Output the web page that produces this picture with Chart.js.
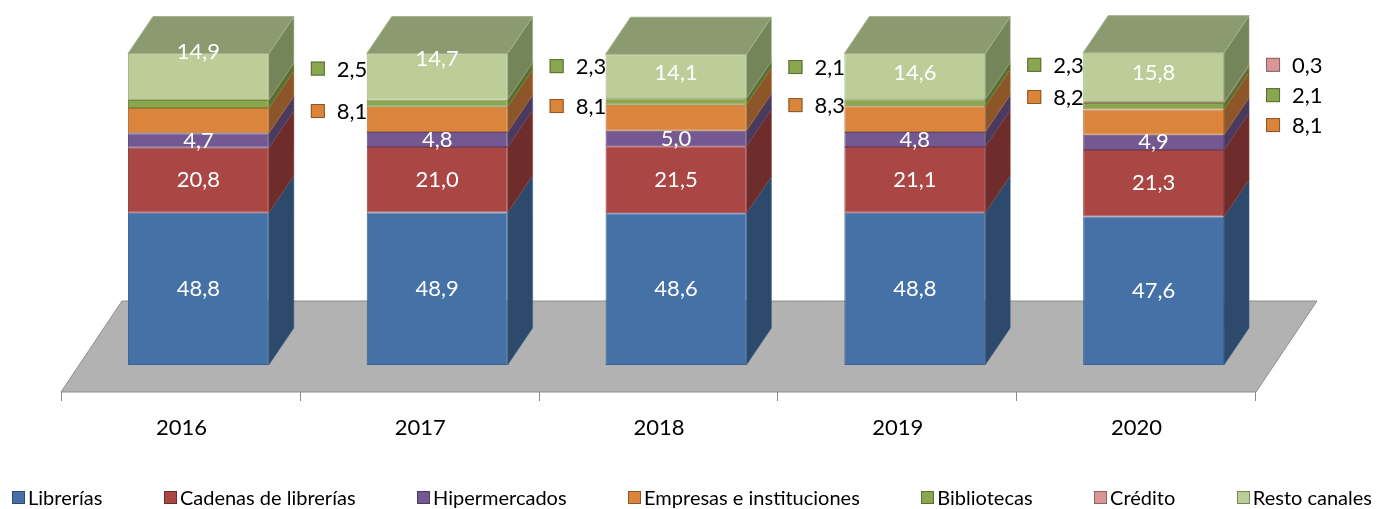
<!DOCTYPE html>
<html>
<head>
<meta charset="utf-8">
<script src="https://cdn.jsdelivr.net/npm/chart.js@4.4.1/dist/chart.umd.min.js"></script>
<style>
    html, body { margin: 0; padding: 0; background: #fff; }
    #wrap { position: relative; width: 1376px; height: 509px; overflow: hidden; }
    #chart { position: absolute; left: 0; top: 0; }
    #custom-legend {
        position: absolute; left: 12px; width: 1360px; top: 485px;
        display: flex; justify-content: space-between;
        font-family: Lato, sans-serif; font-size: 20px; color: #000; line-height: 24px;
    }
</style>
</head>
<body>
<div id="wrap">
    <canvas id="chart" width="1376" height="509"></canvas>
    <div id="custom-legend"></div>
</div>
<script>
// Data (percent shares by sales channel)
const years = ['2016', '2017', '2018', '2019', '2020'];
const librerias = [48.8, 48.9, 48.6, 48.8, 47.6];
const cadenas = [20.8, 21.0, 21.5, 21.1, 21.3];
const hipermercados = [4.7, 4.8, 5.0, 4.8, 4.9];
const empresas = [8.1, 8.1, 8.3, 8.2, 8.1];
const bibliotecas = [2.5, 2.3, 2.1, 2.3, 2.1];
const credito = [null, null, null, null, 0.3];
const resto = [14.9, 14.7, 14.1, 14.6, 15.8];

// where the small outside labels were placed (in axis units)
const empresasLabelAt = [81.4, 83.0, 83.3, 85.9, 76.9];
const bibliotecasLabelAt = [95.0, 95.8, 95.5, 96.2, 86.5];
const creditoLabelAt = [null, null, null, null, 96.2];
// vertical nudge of the "Resto canales" labels (px)
const restoLabelShift = [-25, -18, -3, -3, -4];

const series = [
    { label: 'Librerías', data: librerias, front: '#4571a7', side: '#2d4a6d', edge: '#3a6291', inside: true },
    { label: 'Cadenas de librerías', data: cadenas, front: '#aa4644', side: '#6e2c2b', edge: '#8e3a38', inside: true },
    { label: 'Hipermercados', data: hipermercados, front: '#735891', side: '#4a3a5e', edge: '#5e4878', inside: true },
    { label: 'Empresas e instituciones', data: empresas, front: '#da843c', side: '#8d5628', edge: '#b46c30', labelAt: empresasLabelAt },
    { label: 'Bibliotecas', data: bibliotecas, front: '#8aa64f', side: '#5a6d33', edge: '#6f8a3c', labelAt: bibliotecasLabelAt },
    { label: 'Crédito', data: credito, front: '#d89696', side: '#8d6262', edge: '#b47a7a', labelAt: creditoLabelAt },
    { label: 'Resto canales', data: resto, front: '#bccd97', side: '#748659', top: '#8b9b6f', edge: '#a2b283', inside: true, shift: restoLabelShift }
];

const DX = 25, DY = 37;          // bar depth
const FDX = 61, FDY = 91;        // floor depth
const SHIFT_X = 17, SHIFT_Y = 27; // bar front face sits inside the floor

function fmt(v) {
    return v.toFixed(1).replace('.', ',');
}

// gray floor, axis ticks and category labels
const floorPlugin = {
    id: 'floor3d',
    beforeDatasetsDraw(chart) {
        const { ctx, chartArea: a } = chart;
        const xs = chart.scales.x;
        const x0 = a.left - SHIFT_X - 1, x1 = a.right - SHIFT_X, y0 = a.bottom + SHIFT_Y;
        ctx.save();
        ctx.beginPath();
        ctx.moveTo(x0, y0);
        ctx.lineTo(x1, y0);
        ctx.lineTo(x1 + FDX, y0 - FDY);
        ctx.lineTo(x0 + FDX, y0 - FDY);
        ctx.closePath();
        ctx.fillStyle = '#b2b2b2';
        ctx.fill();
        ctx.strokeStyle = '#8e8e8e';
        ctx.lineWidth = 1;
        ctx.stroke();

        // tick marks between categories
        const step = xs.width / years.length;
        ctx.strokeStyle = '#8a8a8a';
        ctx.beginPath();
        for (let i = 0; i <= years.length; i++) {
            const tx = Math.round(xs.getPixelForValue(0) - step / 2 + i * step - SHIFT_X) - 0.5;
            ctx.moveTo(tx, y0);
            ctx.lineTo(tx, y0 + 9);
        }
        ctx.stroke();

        // category labels
        ctx.fillStyle = '#000';
        ctx.font = '22px Lato';
        ctx.textAlign = 'center';
        ctx.textBaseline = 'middle';
        years.forEach((yr, i) => {
            ctx.fillText(yr, xs.getPixelForValue(i) - SHIFT_X, 428);
        });
        ctx.restore();
    }
};

// side and top faces, plus value labels
const bars3dPlugin = {
    id: 'bars3d',
    afterDatasetsDraw(chart) {
        const ctx = chart.ctx;
        const ys = chart.scales.y;
        const last = series.length - 1;
        ctx.save();
        ctx.lineWidth = 1;
        series.forEach((s, d) => {
            const meta = chart.getDatasetMeta(d);
            meta.data.forEach((bar, i) => {
                if (!s.data[i]) return;
                const { x, y, base, width } = bar.getProps(['x', 'y', 'base', 'width'], true);
                const l = x - width / 2, r = x + width / 2;
                // side face
                ctx.beginPath();
                ctx.moveTo(r, y);
                ctx.lineTo(r + DX, y - DY);
                ctx.lineTo(r + DX, base - DY);
                ctx.lineTo(r, base);
                ctx.closePath();
                ctx.fillStyle = s.side;
                ctx.fill();
                ctx.strokeStyle = s.edge;
                ctx.globalAlpha = 0.5;
                ctx.stroke();
                ctx.globalAlpha = 1;
                // top face on the last segment
                if (d === last) {
                    ctx.beginPath();
                    ctx.moveTo(l, y);
                    ctx.lineTo(l + DX, y - DY);
                    ctx.lineTo(r + DX, y - DY);
                    ctx.lineTo(r, y);
                    ctx.closePath();
                    ctx.fillStyle = s.top;
                    ctx.fill();
                    ctx.strokeStyle = '#a3b089';
                    ctx.stroke();
                }
            });
        });

        // labels
        ctx.font = '22px Lato';
        ctx.textBaseline = 'middle';
        series.forEach((s, d) => {
            const meta = chart.getDatasetMeta(d);
            meta.data.forEach((bar, i) => {
                const v = s.data[i];
                if (!v) return;
                const { x, y, base, width } = bar.getProps(['x', 'y', 'base', 'width'], true);
                if (s.inside) {
                    ctx.fillStyle = '#fff';
                    ctx.textAlign = 'center';
                    const dy = s.shift ? s.shift[i] : 0;
                    ctx.fillText(fmt(v), x, (y + base) / 2 + dy);
                } else if (s.labelAt && s.labelAt[i] != null) {
                    const r = x + width / 2;
                    const cy = ys.getPixelForValue(s.labelAt[i]);
                    ctx.fillStyle = s.front;
                    ctx.fillRect(r + 42, cy - 7, 14, 14);
                    ctx.strokeStyle = s.side;
                    ctx.strokeRect(r + 42.5, cy - 6.5, 13, 13);
                    ctx.fillStyle = '#000';
                    ctx.textAlign = 'left';
                    ctx.fillText(fmt(v), r + 68, cy + 1);
                }
            });
        });
        ctx.restore();
    }
};

const ctx = document.getElementById('chart').getContext('2d');
const chart = new Chart(ctx, {
    type: 'bar',
    data: {
        labels: years,
        datasets: series.map(s => ({
            label: s.label,
            data: s.data,
            backgroundColor: s.front,
            borderColor: s.edge,
            borderWidth: 1,
            borderSkipped: false,
            barPercentage: 0.59,
            categoryPercentage: 1,
            clip: false
        }))
    },
    options: {
        responsive: false,
        animation: false,
        devicePixelRatio: 1,
        layout: { padding: { left: 79, right: 103, top: 53, bottom: 144 } },
        scales: {
            x: { stacked: true, display: false },
            y: { stacked: true, display: false, min: 0, max: 100 }
        },
        plugins: {
            legend: { display: false },
            tooltip: { enabled: false }
        }
    },
    plugins: [floorPlugin, bars3dPlugin]
});

// Custom legend below the chart
function updateCustomLegend() {
    const legendContainer = document.getElementById('custom-legend');
    legendContainer.innerHTML = '';
    series.forEach(item => {
        const legendItem = document.createElement('div');
        legendItem.style.display = 'flex';
        legendItem.style.alignItems = 'center';

        const colorBox = document.createElement('span');
        colorBox.style.width = '11px';
        colorBox.style.height = '11px';
        colorBox.style.backgroundColor = item.front;
        colorBox.style.border = '1px solid ' + item.side;
        colorBox.style.marginRight = '3px';

        const label = document.createElement('span');
        label.textContent = item.label;

        legendItem.appendChild(colorBox);
        legendItem.appendChild(label);
        legendContainer.appendChild(legendItem);
    });
}
updateCustomLegend();
</script>
</body>
</html>
